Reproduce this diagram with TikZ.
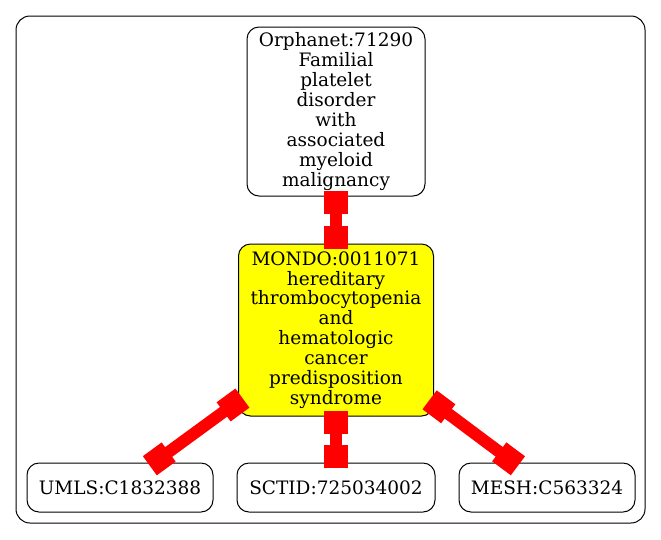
\documentclass[tikz,border=0pt]{standalone}
\usepackage{fontspec}
\setmainfont{DejaVu Serif}
\usetikzlibrary{arrows.meta}
\definecolor{termyellow}{RGB}{255,255,0}
\definecolor{linkred}{RGB}{255,0,0}

\begin{document}
\begin{tikzpicture}[x=1pt,y=-1pt,
    term/.style={draw=black,line width=1pt,rounded corners=12pt,align=center,inner sep=0pt,
        font=\fontsize{18.5pt}{19.9pt}\selectfont},
    link/.style={draw=linkred,line width=12pt,
        {Square[length=23.3pt,width=23.7pt]}-{Square[length=23.3pt,width=23.7pt]},
        shorten <=-5.5pt,shorten >=-5.5pt}]
    \useasboundingbox (0,0) rectangle (661,539);
    \draw[line width=1pt,rounded corners=14pt] (16,16) rectangle (645,523);

    \node[term,minimum width=178pt,minimum height=169pt] (orphanet) at (336,111.5)
        {Orphanet:71290\\Familial\\platelet\\disorder\\with\\associated\\myeloid\\malignancy};
    \node[term,fill=termyellow,minimum width=195pt,minimum height=172pt] (mondo) at (336,330)
        {MONDO:0011071\\hereditary\\thrombocytopenia\\and\\hematologic\\cancer\\predisposition\\syndrome};
    \node[term,minimum width=186pt,minimum height=49pt] (umls) at (120,487.5) {UMLS:C1832388};
    \node[term,minimum width=198pt,minimum height=49pt] (sctid) at (336,487.5) {SCTID:725034002};
    \node[term,minimum width=176pt,minimum height=49pt] (mesh) at (547,487.5) {MESH:C563324};

    \draw[link] (orphanet) -- (mondo);
    \draw[link] (mondo) -- (umls);
    \draw[link] (mondo) -- (sctid);
    \draw[link] (mondo) -- (mesh);
\end{tikzpicture}
\end{document}
